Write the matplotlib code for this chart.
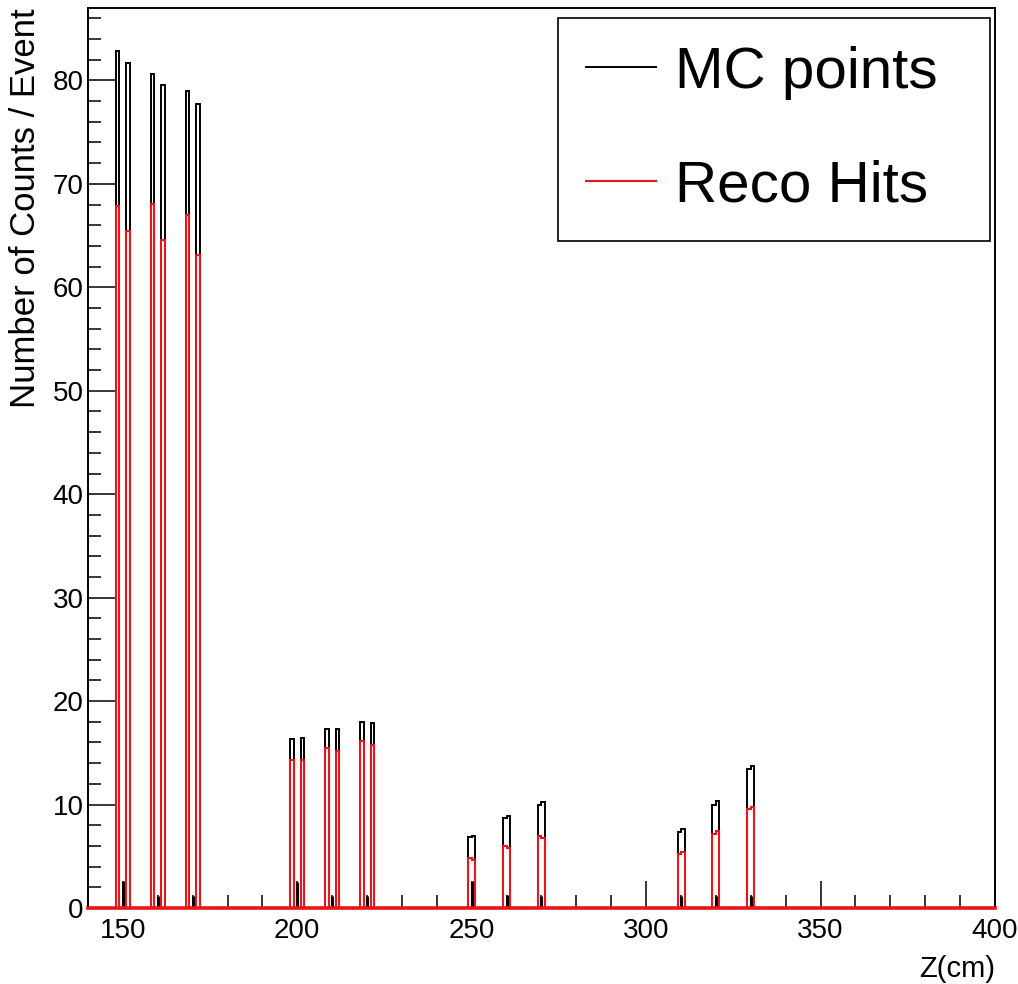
import numpy as np
import matplotlib
matplotlib.use('Agg')
import matplotlib.pyplot as plt
from matplotlib import font_manager
from matplotlib.ticker import MultipleLocator

# histogram binning: 1 cm bins over the plotted z range
z_lo, z_hi, bin_w = 140, 400, 1.0

# MC points: bin centres (cm) and counts per event
mc_z = [148.5, 151.5, 158.5, 161.5, 168.5, 171.5,
        198.5, 201.5, 208.5, 211.5, 218.5, 221.5,
        249.5, 250.5, 259.5, 260.5, 269.5, 270.5,
        309.5, 310.5, 319.5, 320.5, 329.5, 330.5]
mc_n = [82.8, 81.7, 80.6, 79.6, 79.0, 77.7,
        16.3, 16.4, 17.3, 17.3, 18.0, 17.9,
        6.9, 7.0, 8.7, 8.9, 10.0, 10.2,
        7.3, 7.6, 10.0, 10.3, 13.4, 13.7]

# Reco hits, same bins
reco_n = [67.9, 65.4, 68.1, 64.6, 67.0, 63.1,
          14.3, 14.3, 15.5, 15.2, 16.1, 15.8,
          4.8, 4.6, 6.0, 5.8, 7.0, 6.8,
          5.2, 5.4, 7.2, 7.4, 9.6, 9.8]

# thin MC spikes at the layer centres
spike_z = [150, 160, 170, 200, 210, 220, 250, 260, 270, 310, 320, 330]
spike_n = [2.6, 1.2, 1.2, 2.5, 1.2, 1.2, 2.6, 1.3, 1.2, 1.2, 1.2, 1.2]

names = {f.name for f in font_manager.fontManager.ttflist}
narrow = 'Liberation Sans Narrow' if 'Liberation Sans Narrow' in names else 'Liberation Sans'
plt.rcParams['font.family'] = [narrow, 'DejaVu Sans']

edges = np.arange(z_lo, z_hi + bin_w / 2, bin_w)
mc_h, _ = np.histogram(mc_z, bins=edges, weights=mc_n)
reco_h, _ = np.histogram(mc_z, bins=edges, weights=reco_n)

fig = plt.figure(figsize=(10.18, 9.84), dpi=100)
ax = fig.add_axes([88 / 1018, 1 - 908 / 984, 907 / 1018, 900 / 984])

ax.stairs(mc_h, edges, color='black', lw=1.4, label='MC points', zorder=2)
ax.vlines(spike_z, 0, spike_n, color='black', lw=2.2, zorder=2)
ax.stairs(reco_h, edges, color='#e8151b', lw=1.5, label='Reco Hits', zorder=3, clip_on=False)

ax.set_xlim(z_lo, z_hi)
ax.set_ylim(0, 87)
ax.xaxis.set_major_locator(MultipleLocator(50))
ax.xaxis.set_minor_locator(MultipleLocator(10))
ax.yaxis.set_major_locator(MultipleLocator(10))
ax.yaxis.set_minor_locator(MultipleLocator(2))
ax.tick_params(which='both', direction='in', top=False, right=False, width=1.1, labelsize=20)
ax.tick_params(which='major', length=19.5)
ax.tick_params(which='minor', length=9.5)
ax.tick_params(axis='x', pad=7)
ax.tick_params(axis='y', pad=3)
for s in ax.spines.values():
    s.set_linewidth(1.4)
ax.spines['bottom'].set_color('#e8151b')
ax.spines['bottom'].set_linewidth(2.6)

ax.set_ylabel('Number of Counts / Event', loc='top', fontsize=25,
              family=['Liberation Sans', 'DejaVu Sans'], labelpad=8)
ax.set_xlabel('Z(cm)', loc='right', fontsize=21, labelpad=8)

leg = ax.legend(loc='upper left', bbox_to_anchor=(0.518, 0.989, 0.4765, 0.0),
                mode='expand', fontsize=42, frameon=True, fancybox=False,
                edgecolor='black', framealpha=1, borderpad=0.48,
                labelspacing=1.02, handlelength=1.2, handletextpad=0.33,
                borderaxespad=0)
leg.get_frame().set_linewidth(1.2)

fig.savefig('out.png', dpi=100)
